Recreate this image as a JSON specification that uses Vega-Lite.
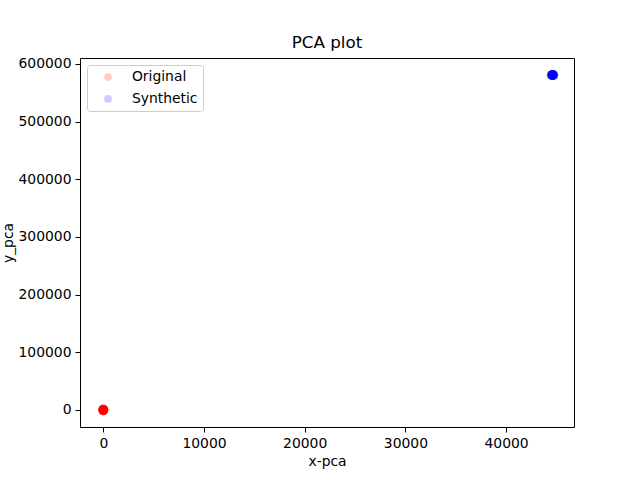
{
  "$schema": "https://vega.github.io/schema/vega-lite/v6.json",
  "autosize": "none",
  "width": 494,
  "height": 369,
  "padding": {"left": 80, "top": 58, "right": 66, "bottom": 53},
  "background": "white",
  "title": {
    "text": "PCA plot",
    "font": "DejaVu Sans",
    "fontSize": 16.7,
    "fontWeight": "normal",
    "color": "black",
    "offset": 5
  },
  "data": {
    "values": [
      {"x": -30, "y": -1500, "set": "Original"},
      {"x": 10, "y": 800, "set": "Original"},
      {"x": 25, "y": -300, "set": "Original"},
      {"x": -5, "y": 1200, "set": "Original"},
      {"x": 40, "y": 200, "set": "Original"},
      {"x": -45, "y": 600, "set": "Original"},
      {"x": 5, "y": -900, "set": "Original"},
      {"x": 15, "y": 100, "set": "Original"},
      {"x": -20, "y": -200, "set": "Original"},
      {"x": 0, "y": 400, "set": "Original"},
      {"x": 30, "y": -700, "set": "Original"},
      {"x": -15, "y": 900, "set": "Original"},
      {"x": 20, "y": 500, "set": "Original"},
      {"x": -35, "y": -100, "set": "Original"},
      {"x": 8, "y": -1100, "set": "Original"},
      {"x": -10, "y": 300, "set": "Original"},
      {"x": 35, "y": 1000, "set": "Original"},
      {"x": -25, "y": -600, "set": "Original"},
      {"x": 12, "y": 700, "set": "Original"},
      {"x": -2, "y": -400, "set": "Original"},
      {"x": 18, "y": 0, "set": "Original"},
      {"x": -40, "y": 1300, "set": "Original"},
      {"x": 3, "y": -1300, "set": "Original"},
      {"x": 28, "y": 600, "set": "Original"},
      {"x": 44500, "y": 580500, "set": "Synthetic"},
      {"x": 44650, "y": 581200, "set": "Synthetic"},
      {"x": 44580, "y": 580900, "set": "Synthetic"},
      {"x": 44700, "y": 580700, "set": "Synthetic"},
      {"x": 44540, "y": 581400, "set": "Synthetic"},
      {"x": 44620, "y": 580300, "set": "Synthetic"},
      {"x": 44680, "y": 581000, "set": "Synthetic"},
      {"x": 44560, "y": 580800, "set": "Synthetic"},
      {"x": 44600, "y": 581100, "set": "Synthetic"},
      {"x": 44640, "y": 580600, "set": "Synthetic"},
      {"x": 44520, "y": 580900, "set": "Synthetic"},
      {"x": 44720, "y": 581100, "set": "Synthetic"},
      {"x": 44590, "y": 580400, "set": "Synthetic"},
      {"x": 44660, "y": 581300, "set": "Synthetic"},
      {"x": 44550, "y": 581000, "set": "Synthetic"},
      {"x": 44610, "y": 580700, "set": "Synthetic"},
      {"x": 44690, "y": 580500, "set": "Synthetic"},
      {"x": 44570, "y": 581200, "set": "Synthetic"},
      {"x": 44630, "y": 580900, "set": "Synthetic"},
      {"x": 44670, "y": 580800, "set": "Synthetic"},
      {"x": 44530, "y": 580600, "set": "Synthetic"},
      {"x": 44710, "y": 580900, "set": "Synthetic"},
      {"x": 44600, "y": 580800, "set": "Synthetic"},
      {"x": 44650, "y": 581000, "set": "Synthetic"}
    ]
  },
  "mark": {"type": "circle", "size": 90, "opacity": 0.2},
  "encoding": {
    "x": {
      "field": "x",
      "type": "quantitative",
      "title": "x-pca",
      "scale": {"domain": [-2314, 46743], "nice": false, "zero": false},
      "axis": {"values": [0, 10000, 20000, 30000, 40000], "format": "d"}
    },
    "y": {
      "field": "y",
      "type": "quantitative",
      "title": "y_pca",
      "scale": {"domain": [-29500, 610400], "nice": false, "zero": false},
      "axis": {"values": [0, 100000, 200000, 300000, 400000, 500000, 600000], "format": "d"}
    },
    "color": {
      "field": "set",
      "type": "nominal",
      "scale": {"domain": ["Original", "Synthetic"], "range": ["#ff0000", "#0000ff"]},
      "legend": {
        "title": null,
        "orient": "none",
        "legendX": 7,
        "legendY": 7,
        "symbolType": "circle",
        "symbolSize": 60,
        "symbolOpacity": 0.2,
        "symbolStrokeWidth": 0,
        "symbolOffset": 9,
        "labelFont": "DejaVu Sans",
        "labelFontSize": 13.9,
        "labelColor": "black",
        "labelOffset": 17,
        "rowPadding": 7,
        "padding": 5,
        "strokeColor": "#cccccc",
        "fillColor": "white",
        "cornerRadius": 3
      }
    }
  },
  "config": {
    "view": {"stroke": "black", "strokeWidth": 1},
    "axis": {
      "grid": false,
      "domain": false,
      "tickColor": "black",
      "tickSize": 5,
      "tickWidth": 1,
      "labelFont": "DejaVu Sans",
      "labelFontSize": 13.9,
      "labelColor": "black",
      "labelPadding": 4,
      "titleFont": "DejaVu Sans",
      "titleFontSize": 13.9,
      "titleFontWeight": "normal",
      "titleColor": "black"
    },
    "axisX": {"titlePadding": 5, "labelFlush": false},
    "axisY": {"titlePadding": 2, "labelFlush": false}
  }
}
